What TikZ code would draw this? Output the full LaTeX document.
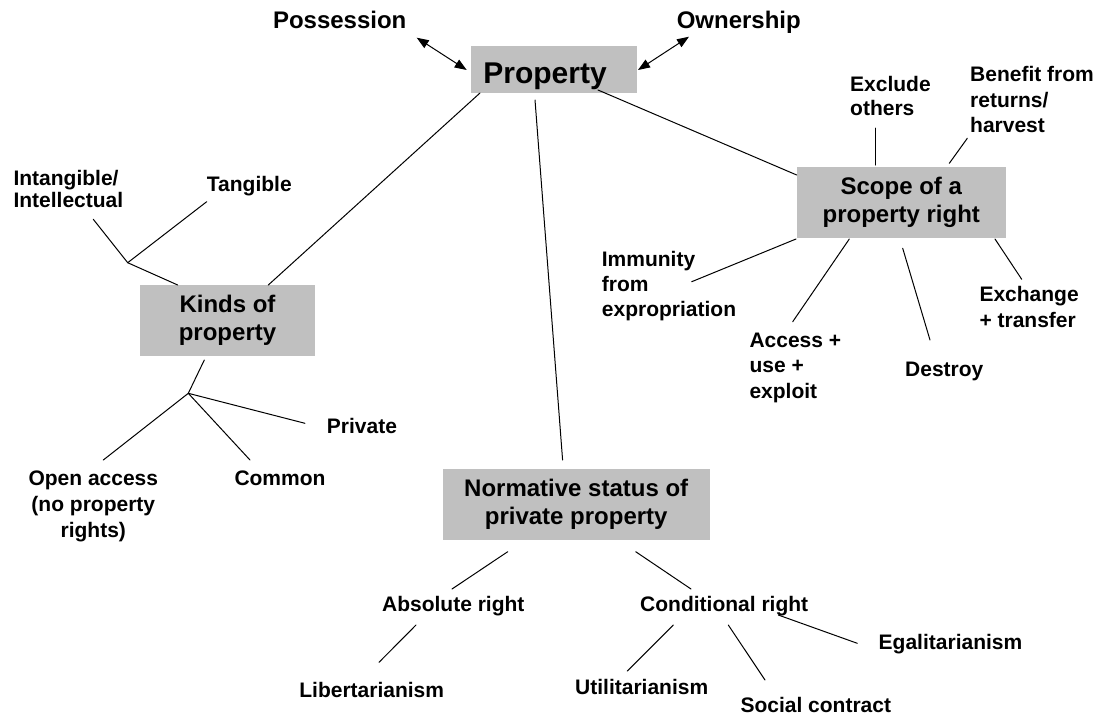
\documentclass[tikz,border=0pt]{standalone}
\usepackage{fontspec}
\setmainfont{Liberation Sans}
\usetikzlibrary{arrows.meta}
\definecolor{boxgray}{HTML}{C0C0C0}
\lineskiplimit=-30pt
\begin{document}
\begin{tikzpicture}[x=1pt,y=-1pt,
  lbl/.style={font=\fontsize{21}{25}\selectfont\bfseries, inner sep=0pt},
  big/.style={font=\fontsize{24}{28}\selectfont\bfseries, inner sep=0pt},
  box/.style={fill=boxgray, inner sep=0pt, align=center, font=\fontsize{24}{28}\selectfont\bfseries},
  conn/.style={line width=1pt, line cap=round},
  biarrow/.style={line width=1pt, {Triangle[length=12pt,width=9pt]}-{Triangle[length=12pt,width=9pt]}}]
\useasboundingbox (0,0) rectangle (1097,716);
\fill[white] (0,0) rectangle (1097,716);

% ---------- boxes ----------
\node[box, font=\fontsize{30}{34}\selectfont\bfseries, minimum width=166pt, minimum height=47pt, text height=35pt, text depth=7.4pt] (prop) at (554,69.5) {Property\hspace*{18pt}};
\node[box, minimum width=175pt, minimum height=70.7pt] (kinds) at (227.5,320.4) {Kinds of\\property};
\node[box, minimum width=209.3pt, minimum height=70.4pt] (scope) at (901.3,202.5) {Scope of a\\property right};
\node[box, minimum width=266.8pt, minimum height=71pt] (norm) at (576.2,504.5) {Normative status of\\private property};

% ---------- labels (multi-line: anchor on last baseline) ----------
\node[big, anchor=base] (poss) at (339.7,28.3) {Possession};
\node[big, anchor=base] (own) at (738.8,28.3) {Ownership};

\node[lbl, anchor=base west, align=left, font=\fontsize{21}{22}\selectfont\bfseries] (intang) at (13.3,207.5) {Intangible/\\Intellectual};
\node[lbl, anchor=base west] (tang) at (206.7,191.7) {Tangible};
\node[lbl, anchor=base west] (priv) at (326.7,433.3) {Private};
\node[lbl, anchor=base] (common) at (280,485) {Common};
\node[lbl, anchor=base, align=center, font=\fontsize{21}{26}\selectfont\bfseries] (open) at (93.3,537) {Open access\\(no property\\rights)};

\node[lbl, anchor=base west, align=left, font=\fontsize{21}{23.3}\selectfont\bfseries] (excl) at (850,115) {Exclude\\others};
\node[lbl, anchor=base west, align=left, font=\fontsize{21}{25.5}\selectfont\bfseries] (benef) at (970,132.7) {Benefit from\\returns/\\harvest};
\node[lbl, anchor=base west, align=left, font=\fontsize{21}{25}\selectfont\bfseries] (immun) at (601.7,316.7) {Immunity\\from\\expropriation};
\node[lbl, anchor=base west, align=left, font=\fontsize{21}{25.5}\selectfont\bfseries] (access) at (749.3,398.3) {Access +\\use +\\exploit};
\node[lbl, anchor=base west] (destroy) at (905,376) {Destroy};
\node[lbl, anchor=base west, align=left, font=\fontsize{21}{25.7}\selectfont\bfseries] (exch) at (979.3,327.4) {Exchange\\+ transfer};

\node[lbl, anchor=base] (absol) at (453.3,611.7) {Absolute right};
\node[lbl, anchor=base] (cond) at (724.2,611.7) {Conditional right};
\node[lbl, anchor=base] (liber) at (371.7,697.3) {Libertarianism};
\node[lbl, anchor=base] (util) at (641.7,694.3) {Utilitarianism};
\node[lbl, anchor=base] (social) at (815.8,712.7) {Social contract};
\node[lbl, anchor=base] (egal) at (950.5,649.3) {Egalitarianism};

% ---------- connector end points ----------
\coordinate (possE) at (416.7,37.7);
\coordinate (propW) at (466.7,70);
\coordinate (propE) at (638,70);
\coordinate (ownE) at (689,36.7);

\coordinate (propK) at (480,93);
\coordinate (kindsP) at (268.3,285);
\coordinate (propN) at (535,100);
\coordinate (normP) at (562.6,460);
\coordinate (propS) at (598,90);
\coordinate (scopeP) at (796.7,175);

\coordinate (j1) at (127.7,262.7);
\coordinate (intangE) at (93.3,219.3);
\coordinate (tangE) at (206.7,201.7);
\coordinate (kindsT) at (177.7,285);
\coordinate (kindsB) at (204.3,360);
\coordinate (j2) at (188.3,393.3);
\coordinate (privE) at (305,423.3);
\coordinate (commonE) at (250,460);
\coordinate (openE) at (103.3,460);

\coordinate (exclA) at (875.7,128);   \coordinate (exclB) at (875.7,165);
\coordinate (benA) at (967.3,138.3);  \coordinate (benB) at (949.3,163.3);
\coordinate (immA) at (796,239);      \coordinate (immB) at (691.7,281.7);
\coordinate (accA) at (849.3,239);    \coordinate (accB) at (792.7,321.7);
\coordinate (desA) at (902.7,248.3);  \coordinate (desB) at (930,340);
\coordinate (exA) at (995,239);       \coordinate (exB) at (1021.7,279.3);

\coordinate (nAbsA) at (507.7,551.7); \coordinate (nAbsB) at (452,589);
\coordinate (nConA) at (635.7,551.7); \coordinate (nConB) at (691,589);
\coordinate (libA) at (416,625);      \coordinate (libB) at (379,662.3);
\coordinate (utA) at (673.3,625);     \coordinate (utB) at (627.3,671);
\coordinate (soA) at (728.3,625);     \coordinate (soB) at (765,680);
\coordinate (egA) at (778.3,615);     \coordinate (egB) at (857.3,643.3);

% ---------- connectors ----------
\draw[biarrow] (possE) -- (propW);
\draw[biarrow] (propE) -- (ownE);

\draw[conn] (propK) -- (kindsP);
\draw[conn] (propN) -- (normP);
\draw[conn] (propS) -- (scopeP);

\draw[conn] (intangE) -- (j1) -- (kindsT);
\draw[conn] (j1) -- (tangE);
\draw[conn] (kindsB) -- (j2);
\draw[conn] (j2) -- (privE);
\draw[conn] (j2) -- (commonE);
\draw[conn] (j2) -- (openE);

\draw[conn] (exclA) -- (exclB);
\draw[conn] (benA) -- (benB);
\draw[conn] (immA) -- (immB);
\draw[conn] (accA) -- (accB);
\draw[conn] (desA) -- (desB);
\draw[conn] (exA) -- (exB);

\draw[conn] (nAbsA) -- (nAbsB);
\draw[conn] (nConA) -- (nConB);
\draw[conn] (libA) -- (libB);
\draw[conn] (utA) -- (utB);
\draw[conn] (soA) -- (soB);
\draw[conn] (egA) -- (egB);
\end{tikzpicture}
\end{document}
